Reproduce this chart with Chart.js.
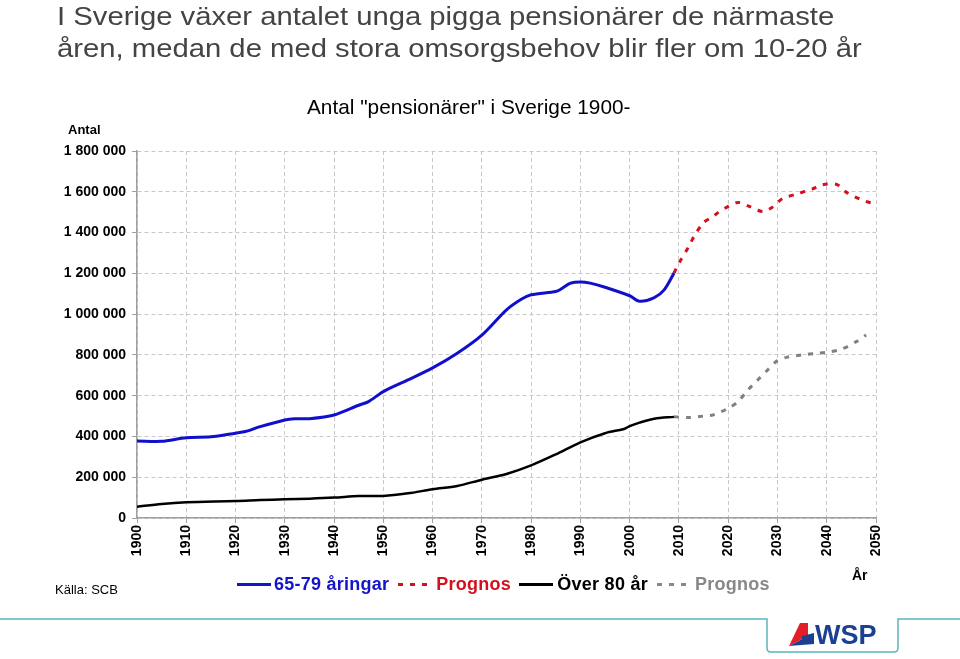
<!DOCTYPE html>
<html>
<head>
<meta charset="utf-8">
<script src="https://cdn.jsdelivr.net/npm/chart.js@4/dist/chart.umd.min.js"></script>
<style>
  html, body { margin: 0; padding: 0; background: #fff; }
  #wrap { position: relative; width: 960px; height: 659px; overflow: hidden;
          font-family: "Liberation Sans", Arial, Helvetica, sans-serif; }
  #c { position: absolute; left: 0; top: 0; }
  .t { position: absolute; white-space: nowrap; }
  #head { left: 57px; top: 0px; font-size: 26px; line-height: 32px; color: #444;
          transform: scaleX(1.125); transform-origin: 0 0; }
  #sub  { left: 307px; top: 95px; font-size: 20.8px; color: #000; }
  #antal { left: 68px; top: 122px; font-size: 13px; font-weight: bold; }
  #ar   { left: 852px; top: 567px; font-size: 14px; font-weight: bold; }
  #src  { left: 55px; top: 582px; font-size: 13px; }
  #legend { left: 237px; top: 573px; font-size: 18px; font-weight: bold; letter-spacing: 0.25px; }
  #legend span { display: inline-block; vertical-align: middle; }
  .solid { width: 34px; border-top: 3px solid; margin-right: 3px; }
  .dash  { width: 32px; height: 3px; margin: 0 6px 0 9px;
           background: repeating-linear-gradient(90deg, currentColor 0 5px, transparent 5px 12px); }
  #logo { position: absolute; left: 0; top: 600px; }
</style>
</head>
<body>
<div id="wrap">
  <canvas id="c" width="960" height="659"></canvas>
  <div class="t" id="head">I Sverige växer antalet unga pigga pensionärer de närmaste<br>åren, medan de med stora omsorgsbehov blir fler om 10-20 år</div>
  <div class="t" id="sub">Antal "pensionärer" i Sverige 1900-</div>
  <div class="t" id="antal">Antal</div>
  <div class="t" id="ar">År</div>
  <div class="t" id="src">Källa: SCB</div>
  <div class="t" id="legend">
    <span class="solid" style="color:#1414c8"></span><span style="color:#1414c8">65-79 åringar</span><span class="dash" style="color:#d4101e"></span><span style="color:#d4101e">Prognos</span>
    <span class="solid" style="color:#000;margin-left:3px;margin-right:4px"></span><span style="color:#000">Över 80 år</span><span class="dash" style="color:#888"></span><span style="color:#888">Prognos</span>
  </div>
  <svg id="logo" width="960" height="59">
    <path d="M0 19 H767 V48 Q767 52 771 52 H894 Q898 52 898 48 V19 H960" fill="none" stroke="#5bb5bd" stroke-width="1.5"/>
    <polygon points="789,46 800,23 808,23 808,36" fill="#e31e24"/>
    <polygon points="789,46 808,36 814,36 814,44" fill="#1c3f94"/>
    <polygon points="802,36 814,33 814,44 802,44" fill="#1c3f94"/>
    <text x="815" y="44" font-family="Liberation Sans, Arial, sans-serif" font-weight="bold" font-size="27" fill="#1c3f94">WSP</text>
  </svg>
</div>
<script>
// ── data ──────────────────────────────────────────────────────────────────────
const years65 = [1900,1905,1910,1915,1920,1922,1925,1930,1932,1935,1940,1945,1947,1950,1955,1960,1965,1970,1975,1978,1980,1985,1986,1988,1990,1992,1995,2000,2002,2005,2007,2009]
const vals65  = [378000,376000,394000,398000,416000,424000,448000,481000,487000,487000,505000,553000,571000,620000,677000,736000,808000,897000,1021000,1073000,1095000,1111000,1122000,1152000,1158000,1152000,1132000,1090000,1063000,1081000,1119000,1201000]

const yearsProg65 = [2009,2010,2012,2013,2015,2017,2018,2020,2022,2024,2027,2029,2031,2034,2037,2039,2042,2044,2047,2049]
const valsProg65  = [1201000,1250000,1332000,1378000,1449000,1479000,1499000,1528000,1548000,1531000,1503000,1525000,1566000,1590000,1613000,1634000,1636000,1597000,1561000,1545000]

const yearsOld = [1900,1905,1910,1920,1925,1930,1935,1940,1945,1950,1955,1960,1965,1970,1975,1980,1985,1990,1995,1999,2000,2002,2005,2009]
const valsOld  = [55000,69000,77000,83000,88000,92000,95000,100000,108000,108000,121000,141000,157000,188000,216000,258000,312000,371000,416000,438000,451000,468000,487000,496000]

const yearsProgOld = [2009,2012,2015,2017,2020,2022,2024,2026,2028,2030,2032,2035,2038,2040,2043,2046,2048]
const valsProgOld  = [496000,493000,500000,506000,538000,571000,628000,677000,726000,772000,789000,800000,808000,813000,828000,865000,898000]

const yearMin = 1900, yearMax = 2050, yearStep = 10
const yMin = 0, yMax = 1800000, yStep = 200000

const pts = (xs, ys) => xs.map((x, i) => ({ x, y: ys[i] }))
const fmt = v => String(v).replace(/\B(?=(\d{3})+(?!\d))/g, ' ')

const FONT = '"Liberation Sans", Arial, sans-serif'

new Chart(document.getElementById('c'), {
  type: 'line',
  data: {
    datasets: [
      { data: pts(years65, vals65), borderColor: '#1010cc', borderWidth: 3 },
      { data: pts(yearsProg65, valsProg65), borderColor: '#d4101e', borderWidth: 3, borderDash: [5, 7] },
      { data: pts(yearsOld, valsOld), borderColor: '#000', borderWidth: 2.5 },
      { data: pts(yearsProgOld, valsProgOld), borderColor: '#808080', borderWidth: 3, borderDash: [5, 7] },
    ],
  },
  options: {
    responsive: false,
    animation: false,
    events: [],
    datasets: { line: { pointRadius: 0, tension: 0.3, fill: false } },
    layout: { padding: { left: 0, right: 84, top: 151, bottom: 91 } },
    scales: {
      x: {
        type: 'linear', min: yearMin, max: yearMax,
        afterFit: s => { s.height = 50 },
        ticks: {
          stepSize: yearStep, minRotation: 90, maxRotation: 90, padding: 2,
          color: '#000', font: { family: FONT, size: 14, weight: 'bold' },
          callback: v => String(v),
        },
        grid: { color: '#c8c8c8', tickLength: 5, tickColor: '#a0a0a0' },
        border: { color: '#a0a0a0', width: 1.5, dash: [4, 3] },
      },
      y: {
        min: yMin, max: yMax,
        afterFit: s => { s.width = 137 },
        ticks: {
          stepSize: yStep, padding: 6,
          color: '#000', font: { family: FONT, size: 14, weight: 'bold' },
          callback: v => fmt(v),
        },
        grid: { color: '#c8c8c8', tickLength: 5, tickColor: '#a0a0a0' },
        border: { color: '#a0a0a0', width: 1.5, dash: [4, 3] },
      },
    },
    plugins: { legend: { display: false }, tooltip: { enabled: false } },
  },
})
</script>
</body>
</html>
